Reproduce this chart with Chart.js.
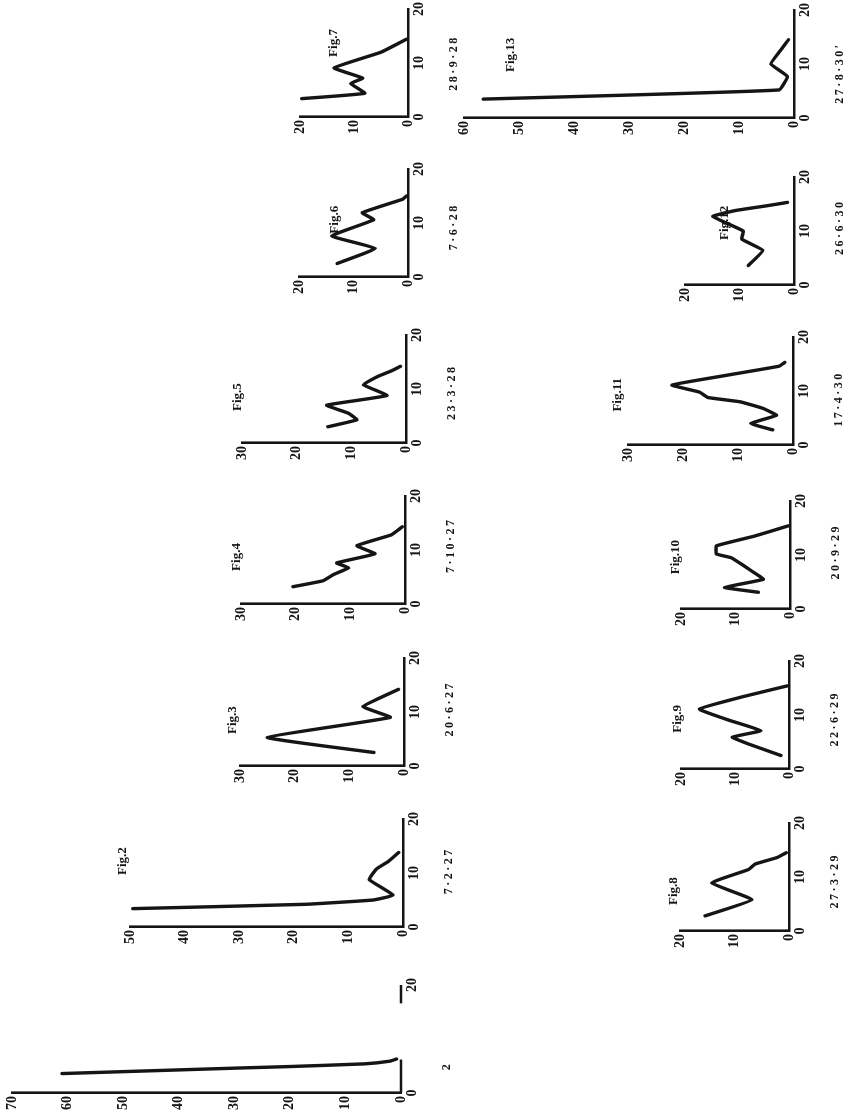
<!DOCTYPE html>
<html>
<head>
<meta charset="utf-8">
<script src="https://cdn.jsdelivr.net/npm/chart.js@4.4.0/dist/chart.umd.min.js"></script>
<style>
    html, body { margin: 0; padding: 0; background: #fff; overflow: hidden; }
    /* the plate is drawn upright and then turned a quarter left, like the scan */
    #page {
        position: absolute; left: 0; top: 0;
        width: 1116px; height: 849px;
        transform-origin: 0 0;
        transform: translateY(1116px) rotate(-90deg);
    }
    #page canvas { position: absolute; }
</style>
</head>
<body>
<div id="page"></div>
<script>
// position along the x axis (0-20) and the value at that position, one pair per figure
const fig1Pos = [3.6, 4.6, 4.9, 5.4, 5.9, 6.3];
const fig1Val = [61, 30, 20, 6.5, 2, 0.8];
const fig2Pos = [3.4, 4.2, 5.0, 5.9, 8.8, 10.8, 12.2, 13.8];
const fig2Val = [49.5, 18, 5.5, 1.8, 6.2, 4.8, 2.6, 0.8];
const fig3Pos = [2.5, 5.3, 9.0, 11.0, 14.2];
const fig3Val = [5.5, 25, 2.5, 7.5, 1];
const fig4Pos = [3.2, 4.3, 5.5, 6.7, 7.6, 9.3, 10.8, 12.8, 14.3];
const fig4Val = [20.5, 15, 13, 10.3, 12.5, 5.5, 8.8, 2.5, 0.5];
const fig5Pos = [3.0, 4.3, 5.5, 7.0, 8.8, 10.8, 12.3, 13.3, 14.2];
const fig5Val = [14.3, 9, 10.5, 14.5, 3.5, 7.8, 5.2, 2.8, 1];
const fig6Pos = [2.5, 5.3, 7.6, 10.6, 11.9, 14.4, 15.0];
const fig6Val = [13, 6, 14, 6.3, 8.4, 1, 0.3];
const fig7Pos = [3.4, 4.4, 6.2, 7.2, 9.1, 12.0, 14.4];
const fig7Val = [19.7, 8, 10.6, 8.4, 13.7, 5, 0.3];
const fig8Pos = [2.8, 5.8, 8.9, 11.4, 12.4, 13.6, 14.5];
const fig8Val = [15.4, 6.8, 14.2, 7.4, 6.2, 2.2, 0.5];
const fig9Pos = [2.5, 4.6, 5.9, 7.1, 9.0, 11.1, 13.3, 15.4];
const fig9Val = [1.5, 7.4, 10.5, 5.2, 11, 16.6, 8.9, 0.3];
const fig10Pos = [3.1, 4.0, 5.5, 7.0, 8.3, 9.5, 10.2, 11.7, 13.5, 15.4];
const fig10Val = [5.8, 12, 4.9, 7, 8.9, 10.8, 13.5, 13.5, 6.5, 0.3];
const fig11Pos = [2.8, 4.0, 5.5, 6.8, 8.0, 8.8, 9.8, 11.1, 12.7, 14.6, 15.3];
const fig11Val = [3.7, 7.7, 3.0, 5.5, 9.6, 15.5, 17, 22, 13.3, 2.5, 1.5];
const fig12Pos = [3.6, 6.4, 8.5, 10.0, 12.7, 13.8, 14.7, 15.3];
const fig12Val = [8.4, 5.7, 9.6, 9.3, 14.9, 10.7, 4.8, 1.2];
const fig13Pos = [3.5, 5.2, 7.7, 10.0, 12.6, 14.5];
const fig13Val = [56.5, 2.7, 1.2, 4.2, 2.4, 1.0];

// the part of Fig.1's x axis that survives on the plate
const fig1AxisPos = [0, 6.2, 11, 16.6, 20];
const fig1AxisVal = [0, 0, null, 0, 0];

// titles, dates and the top of each value axis
const figNames = ['', 'Fig.2', 'Fig.3', 'Fig.4', 'Fig.5', 'Fig.6', 'Fig.7',
    'Fig.8', 'Fig.9', 'Fig.10', 'Fig.11', 'Fig.12', 'Fig.13'];
const figDates = ['2', '7·2·27', '20·6·27', '7·10·27', '23·3·28', '7·6·28', '28·9·28',
    '27·3·29', '22·6·29', '20·9·29', '17·4·30', '26·6·30', '27·8·30\u2032'];
const valueMax = [70, 50, 30, 30, 30, 20, 20, 20, 20, 20, 30, 20, 60];
const posTicks = [0, 10, 20];

const seriesPos = [fig1Pos, fig2Pos, fig3Pos, fig4Pos, fig5Pos, fig6Pos, fig7Pos,
    fig8Pos, fig9Pos, fig10Pos, fig11Pos, fig12Pos, fig13Pos];
const seriesVal = [fig1Val, fig2Val, fig3Val, fig4Val, fig5Val, fig6Val, fig7Val,
    fig8Val, fig9Val, fig10Val, fig11Val, fig12Val, fig13Val];

// where each little chart sits on the upright plate (origin of its axes) and
// where its name and date go, in its own axis units
const frames = [
    { u0: 23,  v0: 401, sv: 5.55, name: null,       date: 5.0 },
    { u0: 189, v0: 403, sv: 5.45, name: [12.2, 51.4], date: 10.4 },
    { u0: 350, v0: 404, sv: 5.45, name: [8.5, 31.4], date: 10.6 },
    { u0: 512, v0: 405, sv: 5.45, name: [8.7, 30.8], date: 10.9 },
    { u0: 673, v0: 406, sv: 5.45, name: [8.5, 30.8], date: 9.4 },
    { u0: 839, v0: 408, sv: 5.45, name: [10.6, 13.4], date: 9.3 },
    { u0: 999, v0: 408, sv: 5.4,  name: [13.7, 13.8], date: 10.0 },
    { u0: 185, v0: 789, sv: 5.45, name: [7.4, 21.1], date: 9.3 },
    { u0: 347, v0: 789, sv: 5.4,  name: [9.3, 20.7], date: 9.3 },
    { u0: 507, v0: 790, sv: 5.45, name: [9.6, 20.9], date: 10.6 },
    { u0: 671, v0: 793, sv: 5.5,  name: [9.3, 31.9], date: 8.5 },
    { u0: 831, v0: 794, sv: 5.45, name: [11.5, 12.8], date: 10.7 },
    { u0: 998, v0: 794, sv: 5.5,  name: [11.7, 51.6], date: 8.3 }
];

const ink = '#151515';
const serif = '"Liberation Serif", "DejaVu Serif", serif';
const pad = { left: 40, right: 30, top: 30, bottom: 70 };
const posWidth = 108;

const page = document.getElementById('page');

// figure name and date written in axis units
const plateText = {
    id: 'plateText',
    afterDraw(chart, args, opts) {
        const { ctx, scales: { x, y } } = chart;
        ctx.save();
        ctx.fillStyle = ink;
        ctx.textAlign = 'center';
        ctx.textBaseline = 'middle';
        if (opts.name) {
            ctx.font = 'bold 13px ' + serif;
            ctx.fillText(opts.name, x.getPixelForValue(opts.nameAt[0]), y.getPixelForValue(opts.nameAt[1]));
        }
        ctx.font = 'bold 12px ' + serif;
        ctx.letterSpacing = '2.5px';
        ctx.fillText(opts.date, x.getPixelForValue(opts.dateAt), y.getPixelForValue(0) + 46);
        ctx.restore();
    }
};

function makeFigure(i) {
    const f = frames[i];
    const vmax = valueMax[i];
    const h = Math.round(vmax * f.sv);

    const canvas = document.createElement('canvas');
    canvas.width = pad.left + posWidth + pad.right;
    canvas.height = pad.top + h + pad.bottom;
    canvas.style.left = (f.u0 - pad.left) + 'px';
    canvas.style.top = (f.v0 - h - pad.top) + 'px';
    page.appendChild(canvas);

    const datasets = [{
        data: seriesPos[i].map((p, k) => ({ x: p, y: seriesVal[i][k] })),
        borderColor: ink,
        borderWidth: 3.4,
        borderJoinStyle: 'round',
        borderCapStyle: 'round',
        pointRadius: 0,
        tension: 0.1,
        clip: false
    }];
    if (i === 0) {
        datasets.push({
            data: fig1AxisPos.map((p, k) => ({ x: p, y: fig1AxisVal[k] })),
            borderColor: ink,
            borderWidth: 2.6,
            pointRadius: 0,
            spanGaps: false,
            clip: false
        });
    }

    const tickFont = { family: serif, size: 14, weight: 'bold' };

    new Chart(canvas.getContext('2d'), {
        type: 'line',
        data: { datasets },
        plugins: [plateText],
        options: {
            responsive: false,
            animation: false,
            events: [],
            layout: { padding: { top: pad.top, right: pad.right, left: 0, bottom: 0 } },
            plugins: {
                legend: { display: false },
                tooltip: { enabled: false },
                plateText: {
                    name: figNames[i],
                    nameAt: f.name,
                    date: figDates[i],
                    dateAt: f.date
                }
            },
            scales: {
                x: {
                    type: 'linear',
                    min: posTicks[0],
                    max: posTicks[posTicks.length - 1],
                    afterFit: s => { s.height = pad.bottom; },
                    afterBuildTicks: s => { s.ticks = posTicks.map(v => ({ value: v })); },
                    grid: { display: false, drawTicks: false },
                    border: { display: i !== 0, color: ink, width: 2.6 },
                    ticks: {
                        color: ink,
                        font: tickFont,
                        padding: 3,
                        maxRotation: 0,
                        callback: v => (i === 0 && v === 10) ? '' : v
                    }
                },
                y: {
                    min: 0,
                    max: vmax,
                    afterFit: s => { s.width = pad.left; },
                    grid: { display: false, drawTicks: false },
                    border: { color: ink, width: 2.6 },
                    ticks: { stepSize: 10, color: ink, font: tickFont, padding: 3 }
                }
            }
        }
    });
}

frames.forEach((f, i) => makeFigure(i));
</script>
</body>
</html>
